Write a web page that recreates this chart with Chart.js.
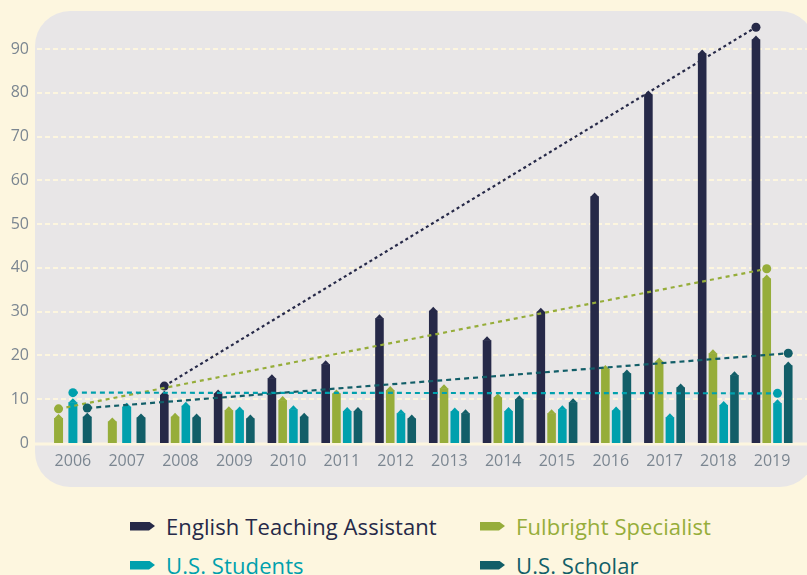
<!DOCTYPE html>
<html>
<head>
<meta charset="utf-8">
<script src="https://cdn.jsdelivr.net/npm/chart.js@4.4.0/dist/chart.umd.min.js"></script>
<style>
  html, body { margin: 0; padding: 0; background: #fdf6df; }
  body { width: 807px; height: 575px; overflow: hidden; position: relative; font-family: "Open Sans", sans-serif; }
  #chart { position: absolute; left: 0; top: 0; }
  .item { position: absolute; display: flex; align-items: center; height: 28px; font-size: 22px; letter-spacing: 0.1px; white-space: nowrap; }
  .mark { width: 25px; height: 9px; margin-right: 11px; clip-path: polygon(0 0, 76% 0, 100% 50%, 76% 100%, 0 100%); }
</style>
</head>
<body>
<canvas id="chart" width="807" height="497"></canvas>
<div id="legend"></div>
<script>
// values
const years = ['2006', '2007', '2008', '2009', '2010', '2011', '2012', '2013', '2014', '2015', '2016', '2017', '2018', '2019'];
const etaValues = [null, null, 11, 11.3, 14.8, 18, 28.5, 30.2, 23.5, 30, 56.3, 79.6, 89, 92.2];
const specialistValues = [5.7, 4.9, 6, 7.5, 9.8, 11.3, 12.1, 12.5, 10.4, 6.8, 16.9, 18.6, 20.5, 37.6];
const studentValues = [9.3, 8.3, 8.5, 7.4, 7.7, 7.3, 6.8, 7.2, 7.3, 7.7, 7.4, 5.9, 8.7, 9.1];
const scholarValues = [6, 5.8, 5.8, 5.6, 6, 7.3, 5.6, 6.8, 10, 9.3, 15.9, 12.7, 15.5, 17.7];

// trend lines: value at first year, value at 2019
const etaTrend = [13.0, 95.0];
const specialistTrend = [7.8, 39.8];
const studentTrend = [11.5, 11.35];
const scholarTrend = [8.0, 20.5];

const yTicks = [0, 10, 20, 30, 40, 50, 60, 70, 80, 90];

const series = [
  { label: 'English Teaching Assistant', data: etaValues, color: '#262948', trend: etaTrend, from: 2, dash: [3, 3] },
  { label: 'Fulbright Specialist', data: specialistValues, color: '#96ad3a', trend: specialistTrend, from: 0, dash: [4, 4] },
  { label: 'U.S. Students', data: studentValues, color: '#00a0ad', trend: studentTrend, from: 0, dash: [5, 4] },
  { label: 'U.S. Scholar', data: scholarValues, color: '#125e68', trend: scholarTrend, from: 0, dash: [5, 4] }
];

const cream = '#fdf6df';
const labelColor = '#7b8691';

// panel, grid, pointed bar tops and trend lines
const chartLook = {
  id: 'chartLook',
  beforeDraw(chart) {
    const { ctx, chartArea: a } = chart;
    const y = chart.scales.y;
    ctx.save();
    ctx.fillStyle = '#e8e6e7';
    ctx.beginPath();
    ctx.roundRect(a.left - 11, a.top, 815 - (a.left - 11), a.bottom - a.top + 44, 35);
    ctx.fill();

    ctx.strokeStyle = cream;
    ctx.lineWidth = 2;
    ctx.setLineDash([5, 3]);
    yTicks.forEach(v => {
      if (v === 0) return;
      const py = Math.round(y.getPixelForValue(v));
      ctx.beginPath();
      ctx.moveTo(a.left - 9, py);
      ctx.lineTo(chart.width, py);
      ctx.stroke();
    });
    ctx.setLineDash([]);
    ctx.lineWidth = 3;
    const zy = y.getPixelForValue(0) + 1;
    ctx.beginPath();
    ctx.moveTo(a.left - 11, zy);
    ctx.lineTo(chart.width, zy);
    ctx.stroke();
    ctx.restore();
  },
  afterDatasetsDraw(chart) {
    const { ctx } = chart;
    const y = chart.scales.y;
    ctx.save();
    chart.data.datasets.forEach((ds, i) => {
      const meta = chart.getDatasetMeta(i);
      ctx.fillStyle = ds.backgroundColor;
      meta.data.forEach((bar, j) => {
        if (ds.data[j] == null) return;
        const w = bar.width / 2;
        ctx.beginPath();
        ctx.moveTo(bar.x - w, bar.y + 0.5);
        ctx.lineTo(bar.x, bar.y - 4);
        ctx.lineTo(bar.x + w, bar.y + 0.5);
        ctx.closePath();
        ctx.fill();
      });
    });
    series.forEach((s, i) => {
      const meta = chart.getDatasetMeta(i);
      const x0 = meta.data[s.from].x;
      const x1 = meta.data[years.length - 1].x;
      const y0 = y.getPixelForValue(s.trend[0]);
      const y1 = y.getPixelForValue(s.trend[1]);
      ctx.strokeStyle = s.color;
      ctx.fillStyle = s.color;
      ctx.lineWidth = 2.2;
      ctx.setLineDash(s.dash);
      ctx.beginPath();
      ctx.moveTo(x0, y0);
      ctx.lineTo(x1, y1);
      ctx.stroke();
      ctx.setLineDash([]);
      [[x0, y0], [x1, y1]].forEach(([px, py]) => {
        ctx.beginPath();
        ctx.arc(px, py, 4.5, 0, Math.PI * 2);
        ctx.fill();
      });
    });
    ctx.restore();
  }
};

new Chart(document.getElementById('chart'), {
  type: 'bar',
  data: {
    labels: years,
    datasets: series.map(s => ({
      label: s.label,
      data: s.data,
      backgroundColor: s.color,
      borderWidth: 0,
      skipNull: true,
      categoryPercentage: 0.8,
      barPercentage: 0.8,
      maxBarThickness: 9
    }))
  },
  options: {
    responsive: false,
    animation: false,
    layout: { padding: { left: 9, right: 8, top: 11, bottom: 26 } },
    plugins: { legend: { display: false }, tooltip: { enabled: false } },
    scales: {
      x: {
        grid: { display: false, drawTicks: false },
        border: { display: false },
        ticks: { color: labelColor, font: { family: 'Open Sans', size: 16 }, padding: 9, maxRotation: 0 },
        afterFit: axis => { axis.height = 28; axis.paddingLeft = 0; axis.paddingRight = 0; }
      },
      y: {
        min: 0,
        max: 98.7,
        grid: { display: false, drawTicks: false },
        border: { display: false },
        ticks: {
          stepSize: 10,
          includeBounds: false,
          color: labelColor,
          font: { family: 'Open Sans', size: 16 },
          padding: 17
        },
        afterBuildTicks: axis => { axis.ticks = yTicks.map(v => ({ value: v })); },
        afterFit: axis => { axis.width = 37; axis.paddingTop = 0; axis.paddingBottom = 0; }
      }
    }
  },
  plugins: [chartLook]
});

// legend below the chart
const legend = document.getElementById('legend');
const spots = [[130, 512], [480, 512], [130, 551], [480, 551]];
series.forEach((s, i) => {
  const item = document.createElement('div');
  item.className = 'item';
  item.style.left = spots[i][0] + 'px';
  item.style.top = spots[i][1] + 'px';
  item.style.color = s.color;
  item.innerHTML = `<span class="mark" style="background:${s.color}"></span>${s.label}`;
  legend.appendChild(item);
});
</script>
</body>
</html>
